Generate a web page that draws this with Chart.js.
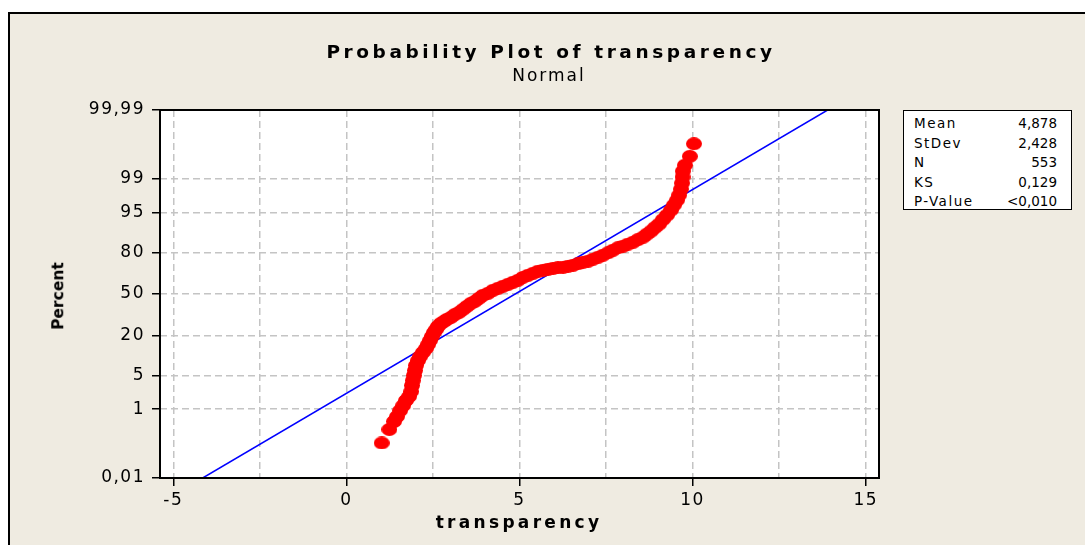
<!DOCTYPE html>
<html><head><meta charset="utf-8">
<script src="https://cdn.jsdelivr.net/npm/chart.js@4"></script>
<style>
html,body{margin:0;padding:0;background:#fff;width:1085px;height:545px;overflow:hidden;font-family:"DejaVu Sans",sans-serif;}
#panel{position:absolute;left:8px;top:12px;width:1200px;height:700px;background:#EFEBE1;border-left:2px solid #000;border-top:2px solid #000;}
#c{position:absolute;left:0;top:0;}
.t{position:absolute;white-space:nowrap;color:#000;transform:translate(-50%,-50%);line-height:1;}
#title{left:551px;top:52px;font-weight:bold;font-size:18.5px;letter-spacing:3.6px;}
#sub{left:549px;top:75px;font-size:17px;letter-spacing:2px;}
#xt{left:519px;top:522px;font-weight:bold;font-size:17px;letter-spacing:3.3px;}
#yt{left:59px;top:296px;font-weight:bold;font-size:15.5px;transform:translate(-50%,-50%) rotate(-90deg);}
#stats{position:absolute;left:903px;top:110px;width:167px;height:98px;background:#fff;border:1.5px solid #000;font-size:13.5px;color:#000;}
.row{position:absolute;left:10px;right:14px;height:16px;line-height:16px;}
.row .l{position:absolute;left:0;letter-spacing:1.5px;}
.row .v{position:absolute;right:0;}
</style></head>
<body>
<div id="panel"></div>
<canvas id="c" width="1085" height="545"></canvas>
<div class="t" id="title">Probability Plot of transparency</div>
<div class="t" id="sub">Normal</div>
<div class="t" id="xt">transparency</div>
<div class="t" id="yt">Percent</div>
<div id="stats"></div>
<script>
// ---- data ----
const transparency = [1.02,1.24,1.375,1.46,1.55,1.64,1.72,1.81,1.87,1.895,1.92,1.95,1.98,2.01,2.07,2.13,2.21,2.30,2.36,2.415,2.47,2.53,2.59,2.645,2.73,2.82,2.905,3.02,3.14,3.255,3.37,3.48,3.60,3.71,3.83,3.945,4.09,4.235,4.38,4.52,4.67,4.81,4.955,5.10,5.245,5.39,5.535,5.68,5.82,5.97,6.11,6.26,6.40,6.545,6.69,6.83,6.98,7.12,7.27,7.41,7.56,7.70,7.85,7.99,8.13,8.28,8.42,8.57,8.68,8.80,8.91,9.03,9.14,9.26,9.375,9.46,9.55,9.61,9.665,9.695,9.71,9.72,9.78,9.92,10.04];
const percent = [0.13,0.31,0.50,0.66,0.92,1.21,1.57,1.91,2.44,3.22,4.02,4.98,6.11,7.44,8.96,10.35,11.88,13.57,15.41,17.41,19.57,21.89,23.73,25.65,27.66,29.02,30.43,31.85,34.05,35.53,37.83,40.17,42.54,44.12,46.53,48.96,50.57,52.99,54.59,56.19,57.77,59.36,60.92,63.24,64.74,66.24,67.72,68.44,69.15,69.85,70.22,70.57,71.26,71.94,72.97,73.96,74.60,75.90,77.13,78.35,79.81,81.19,82.54,83.30,84.30,85.24,86.39,87.46,88.67,89.80,91.00,92.10,93.36,94.45,95.50,96.38,97.11,97.72,98.30,98.75,99.10,99.35,99.54,99.73,99.88];
const fitLineX = [-4.15, 13.90];
const fitLinePercent = [0.01, 99.99];
const yTickPercents = [0.01,1,5,20,50,80,95,99,99.99];
const yTickLabels = ['0,01','1','5','20','50','80','95','99','99,99'];
const xGridValues = [-5,-2.5,0,2.5,5,7.5,10,12.5,15];
const xTickValues = [-5,0,5,10,15];
const xTickLabels = ['-5','0','5','10','15'];
const xRange = [-5.384, 15.384];
const statsLabels = ['Mean','StDev','N','KS','P-Value'];
const statsValues = ['4,878','2,428','553','0,129','<0,010'];

// inverse normal CDF (axis transform for the probability scale)
function probit(p){
  const a=[-3.969683028665376e+01,2.209460984245205e+02,-2.759285104469687e+02,1.383577518672690e+02,-3.066479806614716e+01,2.506628277459239e+00];
  const b=[-5.447609879822406e+01,1.615858368580409e+02,-1.556989798598866e+02,6.680131188771972e+01,-1.328068155288572e+01];
  const c=[-7.784894002430293e-03,-3.223964580411365e-01,-2.400758277161838e+00,-2.549671348283587e+00,4.374664141464968e+00,2.938163982698783e+00];
  const d=[7.784695709041462e-03,3.224671290700398e-01,2.445134137142996e+00,3.754408661907416e+00];
  const pl=0.02425, ph=1-pl; let q,r;
  if(p<pl){q=Math.sqrt(-2*Math.log(p));return (((((c[0]*q+c[1])*q+c[2])*q+c[3])*q+c[4])*q+c[5])/((((d[0]*q+d[1])*q+d[2])*q+d[3])*q+1);}
  if(p>ph){q=Math.sqrt(-2*Math.log(1-p));return -(((((c[0]*q+c[1])*q+c[2])*q+c[3])*q+c[4])*q+c[5])/((((d[0]*q+d[1])*q+d[2])*q+d[3])*q+1);}
  q=p-0.5;r=q*q;return (((((a[0]*r+a[1])*r+a[2])*r+a[3])*r+a[4])*r+a[5])*q/(((((b[0]*r+b[1])*r+b[2])*r+b[3])*r+b[4])*r+1);
}

// stats box
const st=document.getElementById('stats');
statsLabels.forEach((l,i)=>{
  const r=document.createElement('div'); r.className='row'; r.style.top=(4+i*19.5)+'px';
  const a=document.createElement('span'); a.className='l'; a.textContent=l;
  const b=document.createElement('span'); b.className='v'; b.textContent=statsValues[i];
  r.appendChild(a); r.appendChild(b); st.appendChild(r);
});

// ellipse marker
const dot=document.createElement('canvas'); dot.width=16; dot.height=13;
const dc=dot.getContext('2d'); dc.fillStyle='#FF0000'; dc.beginPath(); dc.ellipse(8,6.5,8,6.5,0,0,Math.PI*2); dc.fill();

const framePlugin={id:'frame',
  beforeDraw(chart){const {ctx,chartArea:a}=chart; ctx.save(); ctx.fillStyle='#fff'; ctx.fillRect(a.left,a.top,a.right-a.left,a.bottom-a.top); ctx.restore(); ctx.letterSpacing='1.5px';},
  afterDatasetsDraw(chart){const {ctx,chartArea:a}=chart; ctx.save(); ctx.strokeStyle='#000'; ctx.lineWidth=2; ctx.strokeRect(a.left,a.top,a.right-a.left,a.bottom-a.top); ctx.restore();},
  afterDraw(chart){chart.ctx.letterSpacing='0px';}
};

const yMin=probit(0.0001), yMax=probit(0.9999);
const font={family:'DejaVu Sans',size:17};

new Chart(document.getElementById('c'),{
  type:'scatter',
  data:{datasets:[
    {label:'transparency',data:transparency.map((x,i)=>({x:x,y:probit(percent[i]/100)})),pointStyle:dot,pointRadius:8,showLine:false,order:0},
    {label:'fit',data:fitLineX.map((x,i)=>({x:x,y:probit(fitLinePercent[i]/100)})),showLine:true,borderColor:'#0000FF',borderWidth:1.5,pointRadius:0,order:1}
  ]},
  options:{
    responsive:false,animation:false,events:[],
    layout:{padding:{left:0,top:110,right:206,bottom:0}},
    plugins:{legend:{display:false},tooltip:{enabled:false},title:{display:false}},
    scales:{
      x:{type:'linear',position:'bottom',min:xRange[0],max:xRange[1],
        afterBuildTicks:s=>{s.ticks=xGridValues.map(v=>({value:v}));},
        afterFit:s=>{s.height=67;},
        ticks:{autoSkip:false,maxRotation:0,padding:4,color:'#000',font:font,
          callback:v=>{const i=xTickValues.indexOf(v);return i>=0?xTickLabels[i]:'';}},
        grid:{color:'#C4C4C4',lineWidth:1.5,tickLength:8,tickWidth:1.5,
          tickColor:c=>(c.tick&&xTickValues.indexOf(c.tick.value)>=0)?'#000':'rgba(0,0,0,0)'},
        border:{display:false,dash:[7,4]}
      },
      y:{type:'linear',min:yMin,max:yMax,
        afterBuildTicks:s=>{s.ticks=yTickPercents.map(p=>({value:probit(p/100)}));},
        afterFit:s=>{s.width=160;},
        ticks:{autoSkip:false,padding:7,color:'#000',font:font,callback:(v,i)=>yTickLabels[i]},
        grid:{color:'#C4C4C4',lineWidth:1.5,tickLength:8,tickWidth:1.5,tickColor:'#000'},
        border:{display:false,dash:[7,4]}
      }
    }
  },
  plugins:[framePlugin]
});
</script>
</body></html>
